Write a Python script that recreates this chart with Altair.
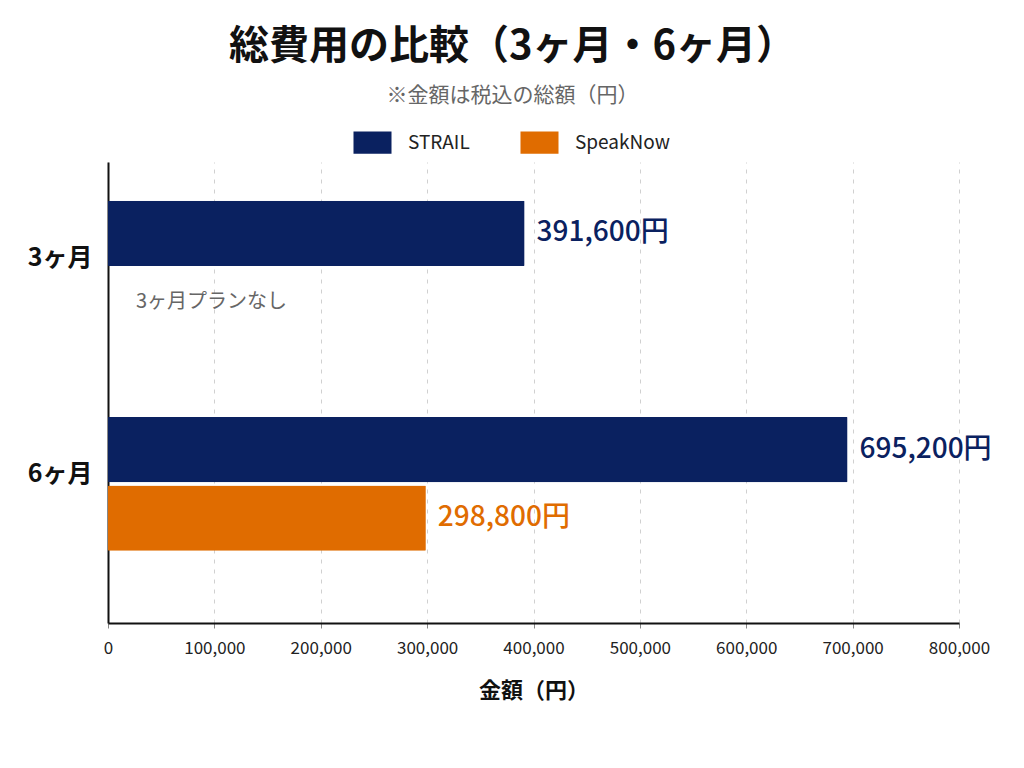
import altair as alt
import pandas as pd

FONT = "Noto Sans CJK JP"

periods = ["3ヶ月", "6ヶ月", "6ヶ月"]
services = ["STRAIL", "STRAIL", "SpeakNow"]
amounts = [391600, 695200, 298800]

period_order = ["3ヶ月", "6ヶ月"]
service_order = ["STRAIL", "SpeakNow"]
service_colors = ["#0a2160", "#e06c00"]

note_period = ["3ヶ月"]
note_service = ["SpeakNow"]
note_text = ["3ヶ月プランなし"]

x_ticks = [0, 100000, 200000, 300000, 400000, 500000, 600000, 700000, 800000]

df = pd.DataFrame({"period": periods, "service": services, "amount": amounts})
df["label"] = df["amount"].map(lambda v: f"{v:,}円")
notes = pd.DataFrame({"period": note_period, "service": note_service, "text": note_text, "zero": [0]})

y_enc = alt.Y(
    "period:N",
    sort=period_order,
    scale=alt.Scale(domain=period_order, paddingInner=0.38, paddingOuter=0.257, align=0.35),
    axis=alt.Axis(
        title=None, ticks=False, domain=True, domainColor="#111", domainWidth=2,
        labelFont=FONT, labelFontSize=25, labelFontWeight="bold", labelColor="#111",
        labelPadding=16, labelOffset=-10, grid=False,
    ),
)
yoff_enc = alt.YOffset(
    "service:N",
    sort=service_order,
    scale=alt.Scale(domain=service_order, paddingInner=0.05, paddingOuter=0),
)
x_scale = alt.Scale(domain=[0, 800000], nice=False)

bars = alt.Chart(df).mark_bar(cornerRadius=1).encode(
    x=alt.X(
        "amount:Q",
        scale=x_scale,
        axis=alt.Axis(
            title="金額（円）", values=x_ticks, format=",.0f", labelFlush=False,
            labelFont=FONT, labelFontSize=17, labelColor="#222", labelPadding=12,
            titleFont=FONT, titleFontSize=22, titleFontWeight="bold", titleColor="#111",
            titlePadding=24,
            domainColor="#111", domainWidth=2, tickColor="#888", tickSize=5,
            grid=True, gridDash=[4, 6], gridColor="#d0d0d0", gridWidth=1,
        ),
    ),
    y=y_enc,
    yOffset=yoff_enc,
    color=alt.Color(
        "service:N",
        sort=service_order,
        scale=alt.Scale(domain=service_order, range=service_colors),
        legend=alt.Legend(
            title=None, orient="none", direction="horizontal",
            legendX=253, legendY=-31,
            symbolType="M-1.7,-1L1.7,-1L1.7,1L-1.7,1Z", symbolSize=500,
            symbolStrokeWidth=0, symbolOpacity=1,
            labelFont=FONT, labelFontSize=19, labelColor="#222",
            labelOffset=24, columnPadding=50,
        ),
    ),
)

labels = alt.Chart(df).mark_text(
    align="left", baseline="middle", dx=12, font=FONT, fontSize=28, fontWeight=500
).encode(
    x=alt.X("amount:Q", scale=x_scale),
    y=alt.Y("period:N", sort=period_order),
    yOffset=alt.YOffset("service:N", sort=service_order),
    text="label:N",
    color=alt.Color("service:N", sort=service_order, legend=None),
)

note = alt.Chart(notes).mark_text(
    align="left", baseline="middle", dx=28, font=FONT, fontSize=20, color="#666"
).encode(
    x=alt.X("zero:Q", scale=x_scale),
    y=alt.Y("period:N", sort=period_order),
    yOffset=alt.YOffset("service:N", sort=service_order),
    text="text:N",
)

chart = alt.layer(bars, labels, note).properties(
    width=851,
    height=461,
    title=alt.TitleParams(
        text="総費用の比較（3ヶ月・6ヶ月）",
        subtitle="※金額は税込の総額（円）",
        font=FONT, fontSize=40, fontWeight="bold", color="#111",
        subtitleFont=FONT, subtitleFontSize=21, subtitleColor="#666",
        subtitlePadding=18, anchor="middle", offset=25, dx=-21,
    ),
    padding={"left": 19, "top": 19, "right": 20, "bottom": 10},
    background="white",
).configure_view(stroke=None)

chart.save("out.html", embed_options={"renderer": "svg", "actions": False})
